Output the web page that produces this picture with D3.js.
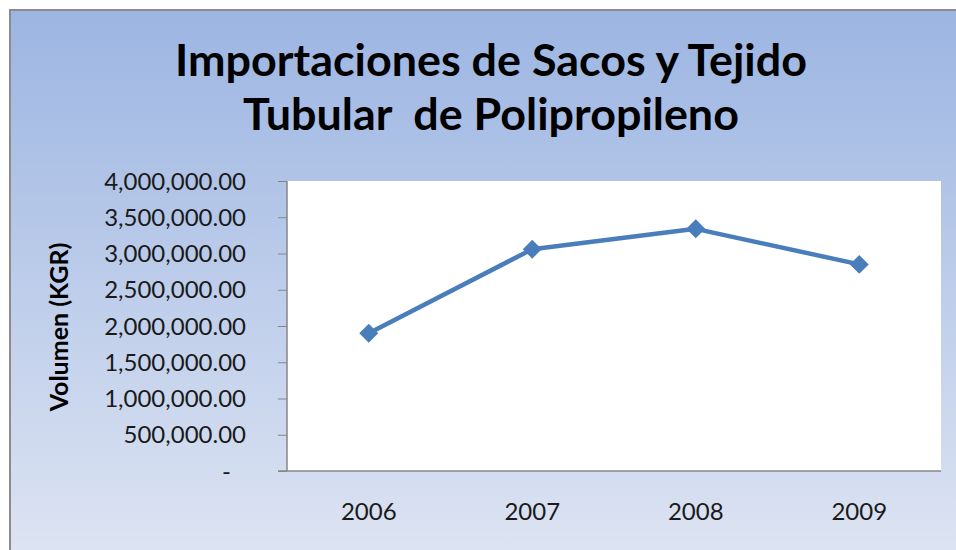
<!DOCTYPE html>
<html>
<head>
<meta charset="utf-8">
<script src="https://cdn.jsdelivr.net/npm/d3@7"></script>
<style>
    body { margin: 0; background: #ffffff; }
    text { font-family: Lato, "Open Sans", sans-serif; fill: #000; }
    .tick-label { font-size: 24px; fill: #1a1a1a; }
</style>
</head>
<body>
<div id="chart"></div>
<script>
var years = ["2006", "2007", "2008", "2009"];
var volumen = [1900000, 3060000, 3340000, 2850000];
var yTicks = [0, 500000, 1000000, 1500000, 2000000, 2500000, 3000000, 3500000, 4000000];
var titleLines = ["Importaciones de Sacos y Tejido", "Tubular  de Polipropileno"];
var yLabel = "Volumen (KGR)";

var W = 956, H = 550;
var margin = { top: 181, right: 15, bottom: 79, left: 287 },
    width = W - margin.left - margin.right,
    height = H - margin.top - margin.bottom;

var root = d3.select("#chart")
    .append("svg")
    .attr("width", W)
    .attr("height", H);

var defs = root.append("defs");
var lg = defs.append("linearGradient")
    .attr("id", "bg")
    .attr("x1", "0%").attr("x2", "0%")
    .attr("y1", "0%").attr("y2", "100%");
lg.append("stop").attr("offset", "0%").style("stop-color", "#9cb5e2");
lg.append("stop").attr("offset", "100%").style("stop-color", "#e0e6f3");

// chart area with grey frame (cut off on the right and bottom)
root.append("rect")
    .attr("x", 10).attr("y", 10)
    .attr("width", W + 20).attr("height", H + 20)
    .style("fill", "url(#bg)")
    .style("stroke", "#8c8c8c")
    .style("stroke-width", 2);

// title, sized so the first line spans like the original
var title = root.append("g").attr("class", "title");
title.selectAll("text")
    .data(titleLines)
    .enter()
    .append("text")
    .attr("x", 491)
    .attr("y", function(d, i) { return 76 + i * 54; })
    .attr("text-anchor", "middle")
    .style("font-weight", "bold")
    .style("font-size", "40px")
    .style("white-space", "pre")
    .attr("xml:space", "preserve")
    .text(function(d) { return d; });
var w0 = title.select("text").node().getComputedTextLength();
title.selectAll("text").style("font-size", (40 * 632 / w0) + "px");

var svg = root.append("g")
    .attr("transform", "translate(" + margin.left + "," + margin.top + ")");

var x = d3.scaleBand()
    .domain(years)
    .range([0, width]);

var y = d3.scaleLinear()
    .domain([0, 4000000])
    .range([height, 0]);

svg.append("rect")
    .attr("width", width)
    .attr("height", height)
    .style("fill", "#ffffff");

var fmt = d3.format(",.2f");

var yAxis = svg.append("g")
    .call(d3.axisLeft(y)
        .tickValues(yTicks)
        .tickSize(9)
        .tickPadding(32)
        .tickFormat(function(d) { return d === 0 ? "-" : fmt(d); }));
yAxis.select(".domain").remove();
yAxis.selectAll("line").style("stroke", "#868686");
yAxis.selectAll("text")
    .attr("class", "tick-label")
    .attr("dy", "0.34em")
    .style("font-family", "Lato, sans-serif")
    .attr("dx", function(d) { return d === 0 ? -15 : 0; });

svg.append("line")
    .attr("x1", 0).attr("x2", 0)
    .attr("y1", 0).attr("y2", height)
    .style("stroke", "#868686")
    .style("stroke-width", 1.5);

var xAxis = svg.append("g")
    .attr("transform", "translate(0," + height + ")")
    .call(d3.axisBottom(x).tickSize(0).tickPadding(32));
xAxis.select(".domain").remove();
xAxis.selectAll("text")
    .attr("class", "tick-label")
    .attr("dy", "0.71em")
    .style("font-family", "Lato, sans-serif");

svg.append("line")
    .attr("x1", -9).attr("x2", width)
    .attr("y1", height).attr("y2", height)
    .style("stroke", "#868686")
    .style("stroke-width", 1.5);

root.append("text")
    .attr("transform", "translate(68," + 327 + ") rotate(-90)")
    .attr("text-anchor", "middle")
    .style("font-weight", "bold")
    .style("font-size", "25px")
    .text(yLabel);

var data = years.map(function(d, i) { return { year: d, value: volumen[i] }; });

svg.append("path")
    .datum(data)
    .attr("d", d3.line()
        .x(function(d) { return x(d.year) + x.bandwidth() / 2; })
        .y(function(d) { return y(d.value); }))
    .style("fill", "none")
    .style("stroke", "#4a7ebb")
    .style("stroke-width", 4.5)
    .style("stroke-linejoin", "round");

svg.selectAll(".marker")
    .data(data)
    .enter()
    .append("path")
    .attr("class", "marker")
    .attr("transform", function(d) {
        return "translate(" + (x(d.year) + x.bandwidth() / 2) + "," + y(d.value) + ")";
    })
    .attr("d", d3.symbol().type(d3.symbolDiamond2).size(230))
    .style("fill", "#4a7ebb");
</script>
</body>
</html>
